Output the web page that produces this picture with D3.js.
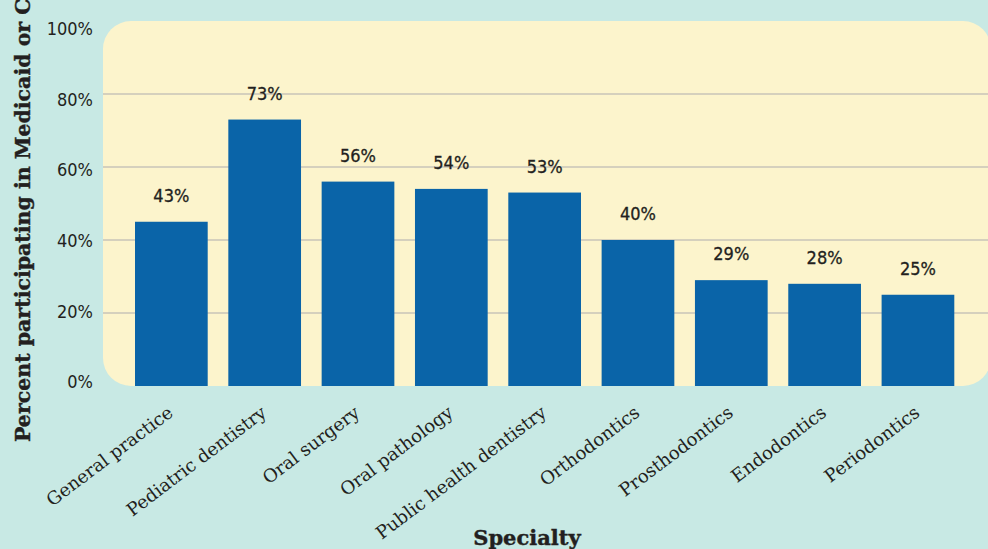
<!DOCTYPE html>
<html>
<head>
<meta charset="utf-8">
<script src="https://cdn.jsdelivr.net/npm/d3@7"></script>
<style>
  html, body { margin: 0; padding: 0; background: #c8e9e4; }
  svg { display: block; }
</style>
</head>
<body>
<svg id="chart" width="988" height="549"></svg>
<script>
const categories = ["General practice", "Pediatric dentistry", "Oral surgery", "Oral pathology",
  "Public health dentistry", "Orthodontics", "Prosthodontics", "Endodontics", "Periodontics"];
const values = [45, 73, 56, 54, 53, 40, 29, 28, 25];
const valueLabels = ["43%", "73%", "56%", "54%", "53%", "40%", "29%", "28%", "25%"];
const yTicks = [0, 20, 40, 60, 80, 100];
const gridTicks = [20, 40, 60, 80];
const yTitle = "Percent participating in Medicaid or CHIP";
const xTitle = "Specialty";

const svg = d3.select("#chart");
const W = 988, H = 549;
const plot = { left: 103, top: 21, right: 991, bottom: 386 };

svg.append("rect").attr("width", W).attr("height", H).attr("fill", "#c8e9e4");

const y = d3.scaleLinear().domain([0, 100]).range([plot.bottom, plot.top]);
const yLab = d3.scaleLinear().domain([0, 100]).range([382, 29]);
const x = d3.scaleBand().domain(categories).range([135, 954.3]).paddingInner(0.221).paddingOuter(0);

// plot background
svg.append("rect")
  .attr("x", plot.left).attr("y", plot.top)
  .attr("width", plot.right - plot.left).attr("height", plot.bottom - plot.top)
  .attr("rx", 28).attr("ry", 28)
  .attr("fill", "#fcf4cc");

// gridlines
svg.append("g").selectAll("line").data(gridTicks).join("line")
  .attr("x1", plot.left).attr("x2", 988)
  .attr("y1", d => y(d)).attr("y2", d => y(d))
  .attr("stroke", "#c9c4b8").attr("stroke-width", 1.6);

// bars
svg.append("g").selectAll("rect").data(values).join("rect")
  .attr("x", (d, i) => x(categories[i]))
  .attr("width", x.bandwidth())
  .attr("y", d => y(d))
  .attr("height", d => y(0) - y(d))
  .attr("fill", "#0a64a8");

const numFont = "'DejaVu Sans Condensed', 'Roboto Condensed', 'DejaVu Sans', Roboto, sans-serif";

// value labels
svg.append("g").selectAll("text").data(values).join("text")
  .attr("x", (d, i) => x(categories[i]) + x.bandwidth() / 2)
  .attr("y", d => y(d) - 20)
  .attr("text-anchor", "middle")
  .attr("font-family", numFont)
  .attr("font-stretch", "condensed")
  .attr("font-size", 18)
  .attr("fill", "#231f20")
  .attr("stroke", "#231f20").attr("stroke-width", 0.3)
  .text((d, i) => valueLabels[i]);

// y axis tick labels
const yAxis = d3.axisLeft(yLab).tickValues(yTicks).tickSize(0).tickPadding(0)
  .tickFormat(d => d + "%");
const gy = svg.append("g").attr("transform", "translate(93,0)").call(yAxis);
gy.select(".domain").remove();
gy.selectAll("text")
  .attr("font-family", numFont)
  .attr("font-stretch", "condensed")
  .attr("font-size", 18)
  .attr("fill", "#231f20");

// x axis category labels
const xAxis = d3.axisBottom(x).tickSize(0).tickPadding(0);
const gx = svg.append("g").attr("transform", "translate(0,415)").call(xAxis);
gx.select(".domain").remove();
gx.selectAll("text")
  .attr("font-family", "'DejaVu Serif', 'Liberation Serif', serif")
  .attr("font-size", 18)
  .attr("fill", "#231f20")
  .attr("text-anchor", "end")
  .attr("dy", 0)
  .attr("y", 0)
  .attr("transform", "translate(3,0) rotate(-37)");

// axis titles
svg.append("text")
  .attr("transform", "translate(30,442) rotate(-90)")
  .attr("font-family", "'DejaVu Serif', serif")
  .attr("font-weight", "bold")
  .attr("font-size", 20.5)
  .attr("fill", "#231f20")
  .attr("stroke", "#231f20").attr("stroke-width", 0.4)
  .text(yTitle);

svg.append("text")
  .attr("x", 527).attr("y", 545)
  .attr("text-anchor", "middle")
  .attr("font-family", "'DejaVu Serif', serif")
  .attr("font-weight", "bold")
  .attr("font-size", 21)
  .attr("fill", "#231f20")
  .attr("stroke", "#231f20").attr("stroke-width", 0.4)
  .text(xTitle);
</script>
</body>
</html>
